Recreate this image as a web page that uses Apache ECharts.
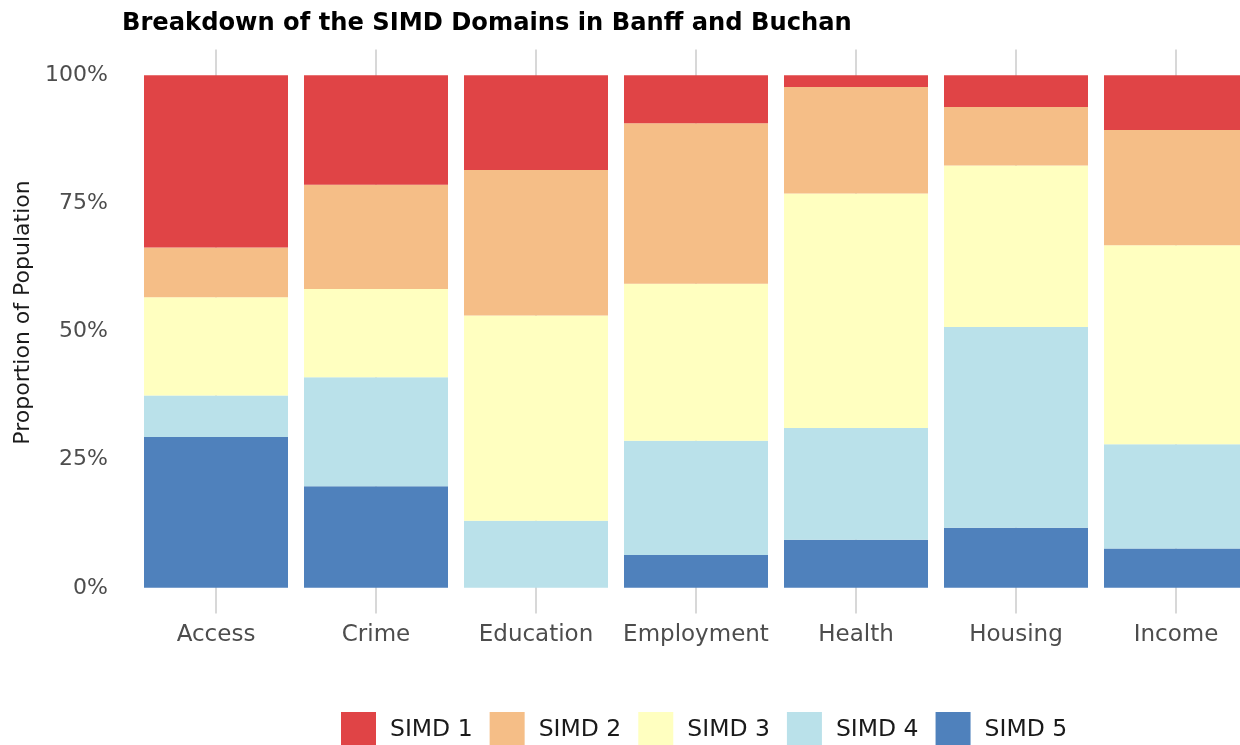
<!DOCTYPE html>
<html>
<head>
<meta charset="utf-8">
<title>SIMD Domains</title>
<script src="https://cdn.jsdelivr.net/npm/echarts@6/dist/echarts.min.js"></script>
<style>
    html, body {
        margin: 0;
        padding: 0;
        background: #fff;
    }
    #main {
        width: 1240px;
        height: 745px;
    }
</style>
</head>
<body>
<div id="main"></div>
<script>
// domains on the x axis
var domains = ['Access', 'Crime', 'Education', 'Employment', 'Health', 'Housing', 'Income']
// share of population in each quintile (percent)
var simd1 = [33.6, 21.4, 18.5, 9.4, 2.3, 6.2, 10.7]
var simd2 = [9.7, 20.3, 28.4, 31.3, 20.8, 11.4, 22.5]
var simd3 = [19.2, 17.2, 40.0, 30.6, 45.7, 31.5, 38.8]
var simd4 = [8.1, 21.3, 13.1, 22.3, 21.8, 39.2, 20.3]
var simd5 = [29.4, 19.8, 0, 6.4, 9.4, 11.7, 7.7]
var yTicks = [0, 25, 50, 75, 100]

var colors = {
    'SIMD 1': '#e04446',
    'SIMD 2': '#f5be87',
    'SIMD 3': '#ffffc0',
    'SIMD 4': '#bae1ea',
    'SIMD 5': '#4f81bc'
}

// stacking goes bottom up, so SIMD 5 first
var stackOrder = [
    ['SIMD 5', simd5],
    ['SIMD 4', simd4],
    ['SIMD 3', simd3],
    ['SIMD 2', simd2],
    ['SIMD 1', simd1]
]
var series = stackOrder.map(function (item) {
    return {
        name: item[0],
        type: 'bar',
        stack: 'total',
        barWidth: 144,
        itemStyle: {
            color: colors[item[0]]
        },
        emphasis: { disabled: true },
        data: item[1]
    }
})

var font = 'DejaVu Sans'
var option = {
    animation: false,
    title: {
        text: 'Breakdown of the SIMD Domains in Banff and Buchan',
        left: 117,
        top: 7,
        textStyle: {
            fontFamily: font,
            fontWeight: 'bold',
            fontSize: 24.2,
            color: '#000'
        }
    },
    legend: {
        data: ['SIMD 1', 'SIMD 2', 'SIMD 3', 'SIMD 4', 'SIMD 5'],
        left: 341,
        top: 712,
        padding: 0,
        itemWidth: 35,
        itemHeight: 35,
        itemGap: 17,
        icon: 'rect',
        selectedMode: false,
        textStyle: {
            fontFamily: font,
            fontSize: 23.5,
            color: '#1a1a1a',
            padding: [0, 0, 0, 9]
        }
    },
    grid: {
        left: 136,
        width: 1120,
        top: 49.5,
        bottom: 131.5,
        outerBoundsMode: 'none'
    },
    xAxis: {
        type: 'category',
        data: domains,
        axisLine: { show: false, onZero: false },
        axisTick: {
            show: true,
            interval: 0,
            alignWithLabel: true,
            inside: true,
            length: 564,
            lineStyle: {
                color: '#cccccc',
                width: 1.5
            }
        },
        axisLabel: {
            interval: 0,
            fontFamily: font,
            fontSize: 23,
            color: '#4d4d4d',
            margin: 10
        },
        splitLine: { show: false }
    },
    yAxis: {
        type: 'value',
        min: -5,
        max: 105,
        name: 'Proportion of Population',
        nameLocation: 'middle',
        nameGap: 100,
        nameTextStyle: {
            fontFamily: font,
            fontSize: 22,
            color: '#1a1a1a',
            padding: [0, 0, 0, 38]
        },
        axisLine: { show: false },
        axisTick: { show: false },
        splitLine: { show: false },
        axisLabel: {
            customValues: yTicks,
            fontFamily: font,
            fontSize: 22,
            color: '#4d4d4d',
            margin: 28,
            formatter: function (v) {
                return v + '%'
            }
        }
    },
    series: series
}

var myChart = echarts.init(document.getElementById('main'))
myChart.setOption(option)
</script>
</body>
</html>
